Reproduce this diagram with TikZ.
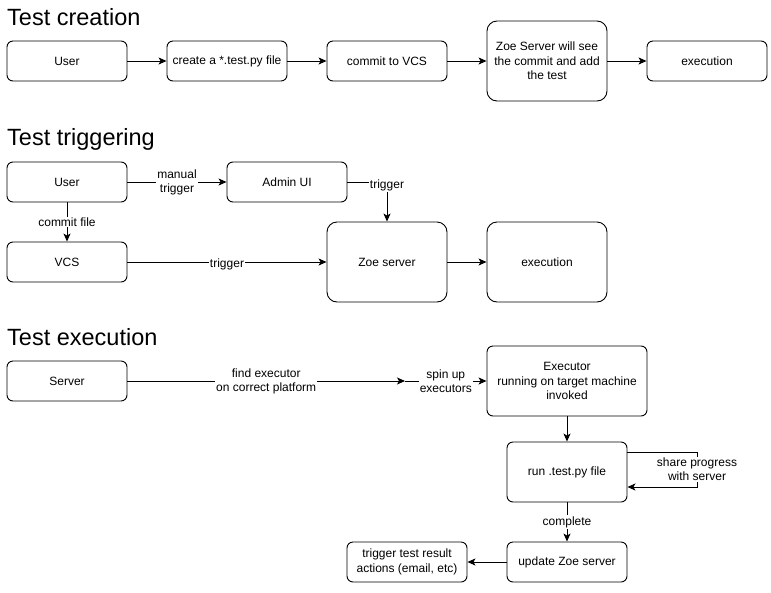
\documentclass[tikz,border=0pt]{standalone}
\usepackage{fontspec}
\setmainfont{Liberation Sans}
\usetikzlibrary{arrows.meta}

\tikzset{
  box/.style={draw, rounded corners=6pt, line width=0.9pt, minimum width=120pt, minimum height=40pt,
    inner sep=0pt, align=center, font=\fontsize{12}{14.4}\selectfont},
  bigbox/.style={box, minimum height=80pt, rounded corners=10pt},
  title/.style={anchor=base west, inner sep=0pt, font=\fontsize{23.5}{28}\selectfont},
  lbl/.style={fill=white, inner sep=1pt, align=center, font=\fontsize{12}{14}\selectfont},
  arr/.style={line width=0.9pt, -{Stealth[length=8pt, width=7pt, inset=2pt]}}
}

\begin{document}
\begin{tikzpicture}[x=1pt, y=-1pt]
  \useasboundingbox[fill=white] (0,0) rectangle (771,592);

  %%%%% TEST CREATION %%%%%
  \node[title] (tcreation) at (7,25) {Test creation};
  \node[box] (cuser) at (67,61) {User};
  \node[box] (cfile) at (227,61) {create a *.test.py file};
  \node[box] (cvcs) at (387,61) {commit to VCS};
  \node[bigbox] (czoe) at (547,61) {Zoe Server will see\\the commit and add\\the test};
  \node[box] (cexec) at (707,61) {execution};

  \draw[arr] (cuser) -- (cfile);
  \draw[arr] (cfile) -- (cvcs);
  \draw[arr] (cvcs) -- (czoe);
  \draw[arr] (czoe) -- (cexec);

  %%%%% TEST TRIGGERING %%%%%
  \node[title] (ttriggering) at (7,145) {Test triggering};
  \node[box] (tuser) at (67,182) {User};
  \node[box] (tadmin) at (287,182) {Admin UI};
  \node[box] (tvcs) at (67,262) {VCS};
  \node[bigbox] (tzoe) at (387,262) {Zoe server};
  \node[bigbox] (texec) at (547,262) {execution};

  \draw[arr] (tuser) -- node[lbl] {manual\\trigger} (tadmin);
  \draw[arr] (tadmin.east) -| node[lbl, pos=0.5, yshift=-3pt] {trigger} (tzoe.north);
  \draw[arr] (tuser) -- node[lbl] {commit file} (tvcs);
  \draw[arr] (tvcs) -- node[lbl, yshift=-2pt] {trigger} (tzoe);
  \draw[arr] (tzoe) -- (texec);

  %%%%% TEST EXECUTION %%%%%
  \node[title] (texecution) at (7,345) {Test execution};
  \node[box] (eserver) at (67,381) {Server};
  \node[box, minimum width=160pt, minimum height=70pt] (eexecutor) at (567,381) {Executor\\running on target machine\\invoked};
  \node[box, minimum height=60pt] (erun) at (567,472) {run .test.py file};
  \node[box] (eupdate) at (567,562) {update Zoe server};
  \node[box] (eactions) at (407,562) {trigger test result\\actions (email, etc)};
  \coordinate (espin) at (405,381);
  \coordinate (eloopa) at (697,452);
  \coordinate (eloopb) at (697,487);

  \draw[arr] (eserver) -- node[lbl] {find executor\\on correct platform} (espin);
  \draw[arr] (espin) -- node[lbl] {spin up\\executors} (eexecutor);
  \draw[arr] (eexecutor) -- (erun);
  \draw[arr] ([yshift=20pt]erun.east) -- (eloopa) -- node[lbl] {share progress\\with server} (eloopb) -- ([yshift=-15pt]erun.east);
  \draw[arr] (erun) -- node[lbl] {complete} (eupdate);
  \draw[arr] (eupdate) -- (eactions);
\end{tikzpicture}
\end{document}
